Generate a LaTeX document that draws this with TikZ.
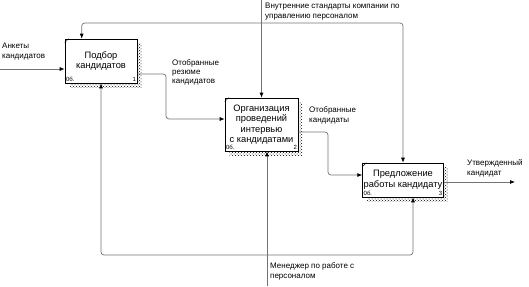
\documentclass[tikz,border=0pt]{standalone}
\usepackage{fontspec}
\setmainfont{Liberation Sans}
\usetikzlibrary{arrows.meta,shadows,patterns,positioning}
\begin{document}
\begin{tikzpicture}[x=1pt,y=-1pt,
    func/.style={draw=black,fill=white,line width=0.6pt,align=center,inner sep=1pt,
      font=\fontsize{9.3}{10.5}\selectfont,
      drop shadow={shadow xshift=4.5pt,shadow yshift=-4.5pt,draw=none,
        pattern=crosshatch dots,pattern color=black,opacity=1}},
    arc/.style={draw=black!55,line width=0.7pt,rounded corners=3pt,
      -{Latex[length=5pt,width=4pt,color=black]}},
    lbl/.style={anchor=north west,align=left,inner sep=0pt,font=\fontsize{8}{10}\selectfont},
    tag/.style={inner sep=1.2pt,font=\fontsize{6}{6}\selectfont}]
    \useasboundingbox (0,0) rectangle (529,286);
    \node[func,minimum width=72pt,minimum height=44pt] (podbor) at (101,61) {Подбор\\кандидатов};
    \node[func,minimum width=73pt,minimum height=53pt] (org) at (261.5,124.5)
        {Организация\\проведений\\интервью\\с кандидатами};
    \node[func,minimum width=80pt,minimum height=34pt] (predl) at (403,180)
        {Предложение\\работы кандидату};
    \foreach \b/\n in {podbor/1,org/2,predl/3}{
        \draw ([yshift=-4pt]\b.north west) -- ([xshift=4pt]\b.north west);
        \node[tag,anchor=south west] (\b-cost) at (\b.south west) {0б.};
        \node[tag,anchor=south east] (\b-num) at (\b.south east) {\n};
    }
    \coordinate (inA) at (0,69);
    \draw[arc] (inA) -- (podbor.west |- inA);
    \coordinate (ctop) at (org.north |- 0,0);
    \coordinate (cjn) at (org.north |- 0,23);
    \draw[arc] (ctop) -- (org.north);
    \draw[arc] (cjn) -| ([xshift=17pt]podbor.north west);
    \draw[arc] (cjn) -| (predl.north);
    \coordinate (o1) at ([yshift=-13pt]podbor.east);
    \draw[arc] (o1) -| (166,119) -- (org.west |- 0,119);
    \coordinate (o2) at ([yshift=-7.5pt]org.east);
    \draw[arc] (o2) -| (328,175) -- (predl.west |- 0,175);
    \coordinate (outC) at (515,182);
    \draw[arc] (predl.east |- outC) -- (outC);
    \coordinate (mbot) at (267,286);
    \coordinate (mjn) at (267,255);
    \draw[arc] (mbot) -- (org.south -| mbot);
    \draw[arc] (mjn) -| (podbor.south);
    \draw[arc] (mjn) -| ([xshift=10pt]predl.south);
    \node[lbl] (anket) at (2,43) {Анкеты\\кандидатов};
    \node[lbl] (rezume) at (172,59) {Отобранные\\[-1pt]резюме\\[-1pt]кандидатов};
    \node[lbl] (standart) at (265,3) {Внутренние стандарты компании по\\управлению персоналом};
    \node[lbl] (otobr) at (309,106) {Отобранные\\кандидаты};
    \node[lbl] (utv) at (467,159) {Утвержденный\\кандидат};
    \node[lbl] (menedzh) at (270,262) {Менеджер по работе с\\персоналом};
\end{tikzpicture}
\end{document}
